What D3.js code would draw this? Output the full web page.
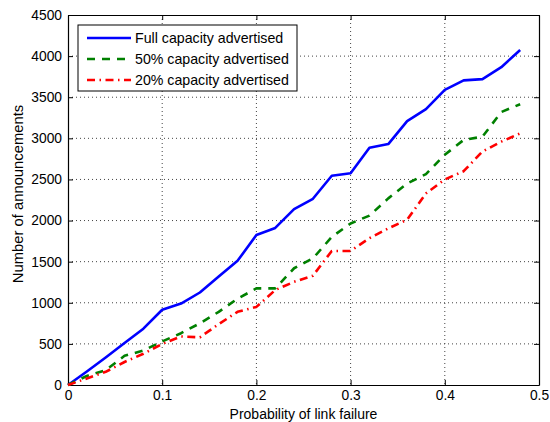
<!DOCTYPE html>
<html>
<head>
<meta charset="utf-8">
<script src="https://cdn.jsdelivr.net/npm/d3@7"></script>
<style>
  body { margin: 0; background: #fff; }
  svg { font-family: "Liberation Sans", Arial, sans-serif; }
  .axis path, .axis line { stroke: #000; }
  .axis text { font-size: 13.8px; fill: #000; }
  .grid line { stroke: #444; stroke-dasharray: 1,3; }
</style>
</head>
<body>
<svg id="chart"></svg>
<script>
const probability = [0, 0.02, 0.04, 0.06, 0.08, 0.10, 0.12, 0.14, 0.16, 0.18, 0.20, 0.22,
    0.24, 0.26, 0.28, 0.30, 0.32, 0.34, 0.36, 0.38, 0.40, 0.42, 0.44, 0.46, 0.48];
const fullCapacity = [0, 165, 335, 510, 685, 915, 990, 1125, 1320, 1510, 1825, 1910,
    2140, 2265, 2545, 2575, 2885, 2930, 3210, 3355, 3590, 3705, 3720, 3865, 4075];
const halfCapacity = [0, 110, 180, 355, 420, 530, 630, 750, 890, 1050, 1175, 1175,
    1420, 1540, 1800, 1965, 2060, 2270, 2450, 2565, 2800, 2980, 3020, 3320, 3415];
const fifthCapacity = [0, 80, 160, 280, 380, 500, 590, 580, 740, 890, 950, 1155,
    1255, 1330, 1630, 1630, 1785, 1905, 2010, 2330, 2500, 2600, 2840, 2960, 3060];

const xTicks = [0, 0.1, 0.2, 0.3, 0.4, 0.5];
const yTicks = [0, 500, 1000, 1500, 2000, 2500, 3000, 3500, 4000, 4500];

const series = [
    {name: "Full capacity advertised", values: fullCapacity, color: "#0000ff", dash: null},
    {name: "50% capacity advertised", values: halfCapacity, color: "#008000", dash: "8,7"},
    {name: "20% capacity advertised", values: fifthCapacity, color: "#ff0000", dash: "8,4.5,1.5,4.5"}
];

const width = 550, height = 422;
const margin = {top: 15, right: 11, bottom: 37, left: 68};
const innerW = width - margin.left - margin.right;
const innerH = height - margin.top - margin.bottom;

const svg = d3.select("#chart")
    .attr("width", width)
    .attr("height", height);

const g = svg.append("g")
    .attr("transform", `translate(${margin.left},${margin.top})`);

const x = d3.scaleLinear().domain([0, 0.5]).range([0, innerW]);
const y = d3.scaleLinear().domain([0, 4500]).range([innerH, 0]);

// grid
g.append("g")
    .attr("class", "grid")
    .selectAll("line")
    .data(xTicks.slice(1, -1))
    .enter().append("line")
    .attr("x1", d => x(d)).attr("x2", d => x(d))
    .attr("y1", 0).attr("y2", innerH);

g.append("g")
    .attr("class", "grid")
    .selectAll("line")
    .data(yTicks.slice(1, -1))
    .enter().append("line")
    .attr("x1", 0).attr("x2", innerW)
    .attr("y1", d => y(d)).attr("y2", d => y(d));

// axes, ticks pointing inward
const fmtX = d => d === 0 ? "0" : d3.format(".1f")(d);

g.append("g")
    .attr("class", "axis")
    .attr("transform", `translate(0,${innerH})`)
    .call(d3.axisBottom(x).tickValues(xTicks).tickFormat(fmtX).tickSizeInner(-5).tickSizeOuter(0).tickPadding(5));

g.append("g")
    .attr("class", "axis")
    .call(d3.axisTop(x).tickValues(xTicks).tickFormat("").tickSizeInner(-5).tickSizeOuter(0));

g.append("g")
    .attr("class", "axis")
    .call(d3.axisLeft(y).tickValues(yTicks).tickFormat(d3.format("d")).tickSizeInner(-5).tickSizeOuter(0).tickPadding(6));

g.append("g")
    .attr("class", "axis")
    .attr("transform", `translate(${innerW},0)`)
    .call(d3.axisRight(y).tickValues(yTicks).tickFormat("").tickSizeInner(-5).tickSizeOuter(0));

g.selectAll(".axis path").attr("stroke-width", 1.2);

// lines
const line = d3.line()
    .x((d, i) => x(probability[i]))
    .y(d => y(d));

series.forEach(s => {
    g.append("path")
        .datum(s.values)
        .attr("fill", "none")
        .attr("stroke", s.color)
        .attr("stroke-width", 2.6)
        .attr("stroke-dasharray", s.dash)
        .attr("stroke-linejoin", "round")
        .attr("d", line);
});

// legend
const legend = g.append("g")
    .attr("transform", "translate(10,10)");

legend.append("rect")
    .attr("width", 219)
    .attr("height", 66)
    .attr("fill", "#fff")
    .attr("stroke", "#000")
    .attr("stroke-width", 1);

series.forEach((s, i) => {
    const row = legend.append("g")
        .attr("transform", `translate(0,${13 + i * 21})`);
    row.append("line")
        .attr("x1", 9).attr("x2", 53)
        .attr("stroke", s.color)
        .attr("stroke-width", 2.6)
        .attr("stroke-dasharray", s.dash);
    row.append("text")
        .attr("x", 57)
        .attr("dy", "0.35em")
        .attr("font-size", "14.2px")
        .text(s.name);
});

// axis labels
svg.append("text")
    .attr("x", margin.left + innerW / 2)
    .attr("y", 419)
    .attr("text-anchor", "middle")
    .attr("font-size", "14px")
    .text("Probability of link failure");

svg.append("text")
    .attr("transform", "translate(23,194) rotate(-90)")
    .attr("text-anchor", "middle")
    .attr("font-size", "14.8px")
    .text("Number of announcements");
</script>
</body>
</html>
